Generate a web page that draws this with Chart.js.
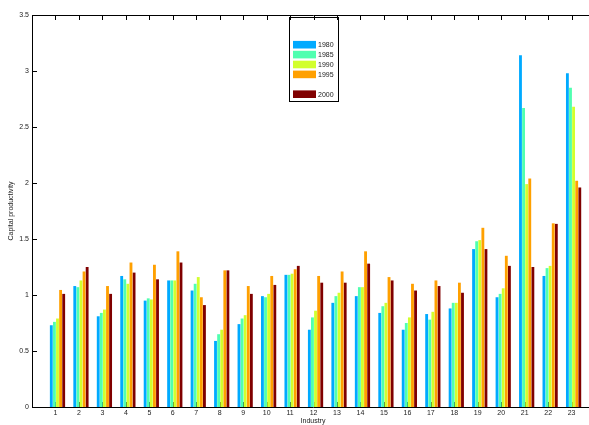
<!DOCTYPE html>
<html>
<head>
<meta charset="utf-8">
<script src="https://cdn.jsdelivr.net/npm/chart.js@4/dist/chart.umd.min.js"></script>
<style>
  html, body { margin: 0; padding: 0; background: #fff; overflow: hidden; }
  canvas { display: block; }
</style>
</head>
<body>
<canvas id="c" width="595" height="425"></canvas>
<script>
// Industries 1..23
const industries = [1,2,3,4,5,6,7,8,9,10,11,12,13,14,15,16,17,18,19,20,21,22,23];
const years = ['1980', '1985', '1990', '1995', '2000'];

// Capital productivity by industry, one array per year
const cp1980 = [0.73,1.08,0.81,1.17,0.95,1.13,1.04,0.59,0.74,0.99,1.18,0.69,0.93,0.99,0.84,0.69,0.83,0.88,1.41,0.98,3.14,1.17,2.98];
const cp1985 = [0.76,1.07,0.84,1.14,0.97,1.13,1.10,0.65,0.79,0.98,1.18,0.80,0.99,1.07,0.90,0.75,0.78,0.93,1.48,1.01,2.67,1.24,2.85];
const cp1990 = [0.79,1.13,0.87,1.10,0.96,1.13,1.16,0.69,0.82,1.01,1.19,0.86,1.02,1.07,0.93,0.80,0.85,0.93,1.49,1.06,1.99,1.26,2.68];
const cp1995 = [1.045,1.21,1.08,1.29,1.27,1.39,0.98,1.22,1.08,1.17,1.23,1.17,1.21,1.39,1.16,1.10,1.13,1.11,1.60,1.35,2.04,1.64,2.02];
const cp2000 = [1.01,1.25,1.01,1.20,1.14,1.29,0.91,1.22,1.01,1.09,1.26,1.11,1.11,1.28,1.13,1.04,1.08,1.02,1.41,1.26,1.25,1.635,1.96];

const yTicks = [0, 0.5, 1, 1.5, 2, 2.5, 3, 3.5];

const seriesValues = [cp1980, cp1985, cp1990, cp1995, cp2000];
const seriesColors = ['#00AAFF', '#50FFB0', '#D2FF2D', '#FFA000', '#800000'];

const FONT = 'Liberation Sans, Arial, Helvetica, sans-serif';
const TICK_SHIFT = -2; // tick marks and labels sit slightly left of group centres
const TICK_LEN = 5;

const datasets = seriesValues.map((vals, k) => ({
  label: years[k],
  data: vals.map((v, i) => ({ x: industries[i], y: v })),
  backgroundColor: seriesColors[k],
  borderWidth: 0,
  categoryPercentage: 0.66,
  barPercentage: 0.92
}));

// Axes box with inward-pointing tick marks on all four sides
const boxPlugin = {
  id: 'boxTicks',
  beforeDatasetsDraw(chart) {
    const { ctx, chartArea: a, scales } = chart;
    ctx.save();
    ctx.strokeStyle = '#000';
    ctx.lineWidth = 1;
    ctx.beginPath();
    ctx.rect(a.left + 0.5, a.top + 0.5, a.right - a.left, a.bottom - a.top);
    ctx.stroke();
    ctx.beginPath();
    yTicks.forEach(v => {
      const y = Math.round(scales.y.getPixelForValue(v)) + 0.5;
      ctx.moveTo(a.left, y); ctx.lineTo(a.left + TICK_LEN, y);
      ctx.moveTo(a.right, y); ctx.lineTo(a.right - TICK_LEN, y);
    });
    industries.forEach(c => {
      const x = Math.round(scales.x.getPixelForValue(c) + TICK_SHIFT) + 0.5;
      ctx.moveTo(x, a.top); ctx.lineTo(x, a.top + TICK_LEN);
      ctx.moveTo(x, a.bottom); ctx.lineTo(x, a.bottom - TICK_LEN);
    });
    ctx.stroke();
    ctx.restore();
  }
};

// Boxed legend with an empty slot before the last entry
const legendPlugin = {
  id: 'boxLegend',
  afterDraw(chart) {
    const { ctx } = chart;
    const bx = 289.5, by = 17.5, bw = 49, bh = 84;
    ctx.save();
    ctx.fillStyle = '#fff';
    ctx.fillRect(bx, by, bw, bh);
    ctx.strokeStyle = '#000';
    ctx.lineWidth = 1;
    ctx.strokeRect(bx, by, bw, bh);
    const rows = [0, 1, 2, 3, 5];
    ctx.font = '7px ' + FONT;
    ctx.textBaseline = 'middle';
    ctx.textAlign = 'left';
    years.forEach((yr, k) => {
      const cy = 44.7 + rows[k] * 9.9;
      ctx.fillStyle = seriesColors[k];
      ctx.fillRect(293, cy - 3.8, 23, 7.6);
      ctx.fillStyle = '#222';
      ctx.fillText(yr, 318, cy + 0.5);
    });
    // top-axis tick marks stay visible above the legend box
    ctx.strokeStyle = '#000';
    ctx.beginPath();
    const a = chart.chartArea;
    industries.forEach(c => {
      const x = Math.round(chart.scales.x.getPixelForValue(c) + TICK_SHIFT) + 0.5;
      if (x > bx && x < bx + bw) { ctx.moveTo(x, a.top); ctx.lineTo(x, a.top + TICK_LEN); }
    });
    ctx.stroke();
    ctx.restore();
  }
};

new Chart(document.getElementById('c'), {
  type: 'bar',
  data: { datasets },
  options: {
    responsive: false,
    animation: false,
    layout: { padding: { top: 15, right: 1, left: 0, bottom: 0 } },
    plugins: { legend: { display: false }, tooltip: { enabled: false } },
    scales: {
      x: {
        type: 'linear',
        offset: false,
        min: 1 - 1.087,
        max: 23.87,
        grid: { display: false, drawTicks: false, offset: false },
        border: { display: false },
        afterBuildTicks(scale) { scale.ticks = industries.map(v => ({ value: v })); },
        afterFit(scale) { scale.height = 18; },
        ticks: {
          autoSkip: false,
          maxRotation: 0,
          padding: 2,
          labelOffset: TICK_SHIFT,
          color: '#222',
          font: { family: FONT, size: 7 },
          callback: v => String(v)
        },
        title: {
          display: true,
          text: 'Industry',
          color: '#222',
          font: { family: FONT, size: 7 },
          padding: { top: 0, bottom: 0 }
        }
      },
      y: {
        min: 0,
        max: 3.5,
        grid: { display: false, drawTicks: false },
        border: { display: false },
        afterBuildTicks(scale) { scale.ticks = yTicks.map(v => ({ value: v })); },
        afterFit(scale) { scale.width = 32; },
        ticks: {
          padding: 3,
          color: '#222',
          font: { family: FONT, size: 7 },
          callback: v => String(v)
        },
        title: {
          display: true,
          text: 'Capital productivity',
          color: '#222',
          font: { family: FONT, size: 7 },
          padding: { top: 7, bottom: 0 }
        }
      }
    }
  },
  plugins: [boxPlugin, legendPlugin]
});
</script>
</body>
</html>
